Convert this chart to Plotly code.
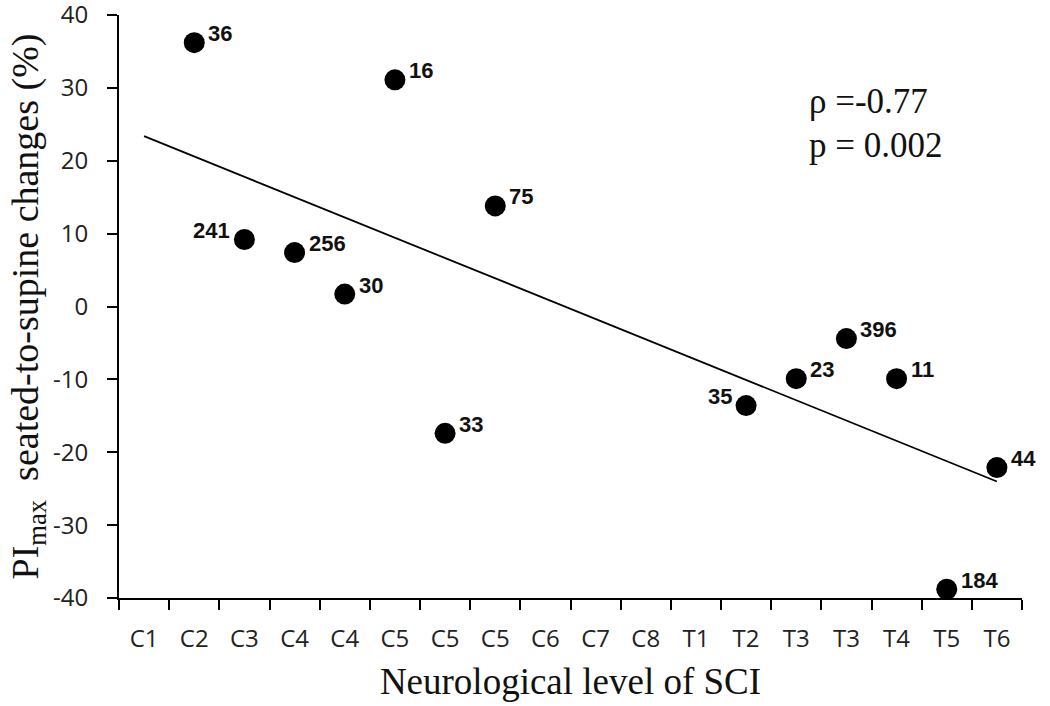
import numpy as np
import plotly.graph_objects as go

levels = ["C1", "C2", "C3", "C4", "C4", "C5", "C5", "C5", "C6", "C7", "C8",
          "T1", "T2", "T3", "T3", "T4", "T5", "T6"]
# position (1-based slot on the x axis), value, label
point_slots = [2, 3, 4, 5, 6, 7, 8, 13, 14, 15, 16, 17, 18]
point_values = [36.2, 9.2, 7.4, 1.7, 31.1, -17.4, 13.8, -13.6, -9.9, -4.4, -9.9, -38.8, -22.1]
point_labels = ["36", "241", "256", "30", "16", "33", "75", "35", "23", "396", "11", "184", "44"]
label_side = ["right", "left", "right", "right", "right", "right", "right", "left",
              "right", "right", "right", "right", "right"]
y_ticks = [-40, -30, -20, -10, 0, 10, 20, 30, 40]
y_tick_text = ["-40", "-30", "-20", "-10", "0", "10", "20", "30", "40"]
stats_text = ["ρ =-0.77", "p = 0.002"]

slots = list(range(1, len(levels) + 1))
slope, intercept = np.polyfit(point_slots, point_values, 1)
trend_x = [slots[0], slots[-1]]
trend_y = [slope * x + intercept for x in trend_x]

fig = go.Figure()
fig.add_trace(go.Scatter(x=trend_x, y=trend_y, mode="lines",
                         line=dict(color="black", width=1.8), hoverinfo="skip"))
fig.add_trace(go.Scatter(x=point_slots, y=point_values, mode="markers",
                         marker=dict(color="black", size=21)))

for xs, yv, lab, side in zip(point_slots, point_values, point_labels, label_side):
    fig.add_annotation(x=xs, y=yv, text=f"<b>{lab}</b>", showarrow=False,
                       xanchor="left" if side == "right" else "right", yanchor="middle",
                       xshift=12 if side == "right" else -12, yshift=9,
                       font=dict(family="Liberation Sans", size=22, color="#111"))

for i, t in enumerate(stats_text):
    fig.add_annotation(xref="paper", yref="paper", x=0.762, y=0.851 - i * 0.074,
                       text=t, showarrow=False, xanchor="left", yanchor="middle",
                       font=dict(family="Liberation Serif", size=35, color="#111"))

fig.update_layout(
    width=1050, height=706,
    margin=dict(l=119, r=28, t=15, b=108),
    plot_bgcolor="white", paper_bgcolor="white",
    showlegend=False,
    xaxis=dict(range=[0.5, len(levels) + 0.5], tickmode="array", tickvals=slots,
               ticktext=levels, ticks="", showgrid=False, zeroline=False,
               showline=True, linecolor="black", linewidth=2, automargin=False,
               ticklabelstandoff=18,
               tickfont=dict(family="Open Sans", size=24, color="#222"),
               minor=dict(tickmode="array", tickvals=[s - 0.5 for s in slots] + [slots[-1] + 0.5],
                          ticks="outside", ticklen=10, tickwidth=2, tickcolor="black",
                          showgrid=False),
               title=dict(text="Neurological level of SCI", standoff=15,
                          font=dict(family="Liberation Serif", size=37, color="#111"))),
    yaxis=dict(range=[-40, 40], tickmode="array", tickvals=y_ticks, ticktext=y_tick_text,
               ticks="outside", ticklen=10, tickwidth=2, tickcolor="black",
               showgrid=False, zeroline=False, showline=True, linecolor="black",
               linewidth=2, ticklabelstandoff=14, automargin=False,
               ticklabeloverflow="allow",
               tickfont=dict(family="Open Sans", size=24, color="#222"),
               title=dict(text="PI<sub>max</sub>  seated-to-supine changes (%)", standoff=3,
                          font=dict(family="Liberation Serif", size=38, color="#111"))),
)

fig.write_html("out.html", config={"displayModeBar": False},
               post_script="document.body.style.margin='0';")
